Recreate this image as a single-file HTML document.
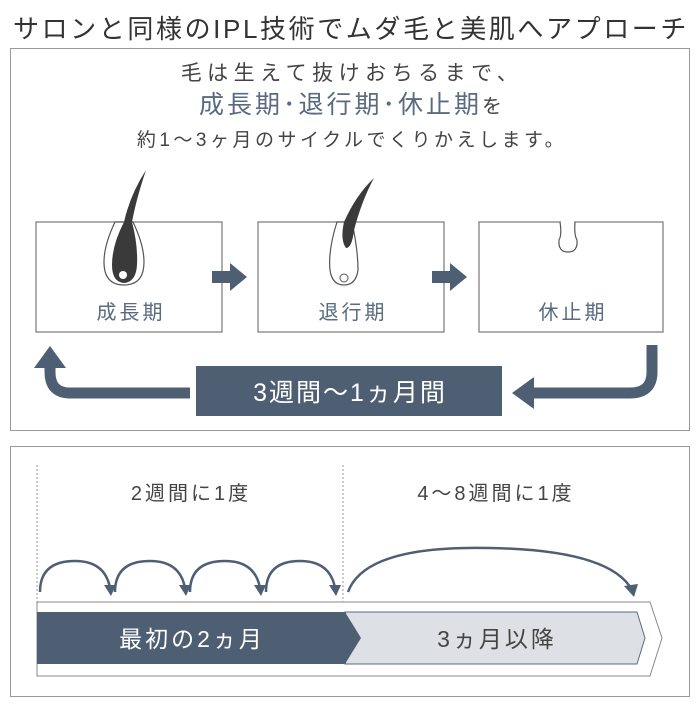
<!DOCTYPE html>
<html><head><meta charset="utf-8"><style>
body{margin:0;width:700px;height:700px;background:#fff;font-family:"Liberation Sans","Noto Sans CJK JP",sans-serif;overflow:hidden}
</style></head><body>
<svg width="700" height="700" xmlns="http://www.w3.org/2000/svg" font-family="Liberation Sans, Noto Sans CJK JP, sans-serif">
<text x="351" y="38" text-anchor="middle" font-size="26" fill="#333" letter-spacing="2.6">サロンと同様のIPL技術でムダ毛と美肌へアプローチ</text>
<rect x="10.5" y="48.5" width="679" height="382" fill="none" stroke="#999"/>
<text x="352" y="80" text-anchor="middle" font-size="21" fill="#444" letter-spacing="5.5">毛は生えて抜けおちるまで、</text>
<text x="352" y="113" text-anchor="middle" font-size="25" fill="#5a6b80" letter-spacing="3">成長期･退行期･休止期<tspan font-size="20" fill="#444">を</tspan></text>
<text x="352" y="146" text-anchor="middle" font-size="19" fill="#444" letter-spacing="3.5">約1〜3ヶ月のサイクルでくりかえします。</text>
<g fill="#fff" stroke="#777" stroke-width="1.2">
<rect x="36" y="222" width="186" height="110"/>
<rect x="258" y="222" width="186" height="110"/>
<rect x="479" y="222" width="184" height="110"/>
</g>
<path d="M115 222 Q104 245 104 262 Q104 285 124 285 Q144 285 144 262 Q144 245 133 222 Z" fill="#fff" stroke="#555" stroke-width="1.2"/>
<path d="M124 283 Q112 282 112 265 Q112 245 124 222 Q130 195 146 170 Q136 200 132 222 Q138 245 137 265 Q136 282 124 283Z" fill="#3a3a3a"/>
<circle cx="123" cy="275" r="4" fill="#fff"/>
<path d="M337 222 Q328 250 330 270 Q332 285 344 285 Q356 285 358 270 Q358 250 352 222 Z" fill="#fff" stroke="#555" stroke-width="1.2"/>
<path d="M346 248 Q340 240 344 222 Q356 195 374 178 Q362 200 354 230 Q352 248 346 248Z" fill="#3a3a3a"/>
<circle cx="344" cy="278" r="4" fill="#fff" stroke="#555"/>
<path d="M560 222 Q562 235 559 240 Q558 252 568 252 Q578 252 577 240 Q574 235 575 222" fill="#fff" stroke="#555" stroke-width="1.2"/>
<rect x="561" y="221" width="13" height="2" fill="#fff"/>
<g font-size="20" fill="#5a6b80" text-anchor="middle" letter-spacing="3">
<text x="131" y="319">成長期</text><text x="353" y="319">退行期</text><text x="573" y="319">休止期</text>
</g>
<g fill="#4f5f73">
<rect x="212" y="271" width="20" height="12"/><polygon points="230,263 247,277 230,291"/>
<rect x="432" y="271" width="20" height="12"/><polygon points="450,263 467,277 450,291"/>
<rect x="196" y="366" width="306" height="50"/>
</g>
<text x="350" y="401" text-anchor="middle" font-size="25" fill="#fff" letter-spacing="2">3週間〜1ヵ月間</text>
<path d="M190 393 H70 Q50 393 50 372 V364" fill="none" stroke="#4f5f73" stroke-width="11"/>
<polygon points="34,368 50,346 66,368" fill="#4f5f73"/>
<path d="M652 345 V372 Q652 393 630 393 H530" fill="none" stroke="#4f5f73" stroke-width="11"/>
<polygon points="534,377 512,393 534,409" fill="#4f5f73"/>
<rect x="10.5" y="446.5" width="679" height="250" fill="none" stroke="#999"/>
<g stroke="#999" stroke-dasharray="2,2"><line x1="37" y1="465" x2="37" y2="602"/><line x1="343" y1="465" x2="343" y2="676"/></g>
<text x="191" y="500" text-anchor="middle" font-size="20" fill="#444" letter-spacing="3">2週間に1度</text>
<text x="496" y="500" text-anchor="middle" font-size="20" fill="#444" letter-spacing="3">4〜8週間に1度</text>
<g fill="none" stroke="#4f5f73" stroke-width="2.5">
<path d="M40 592 Q40 561 75 561 Q105 561 110 588"/>
<path d="M115 592 Q115 561 150 561 Q180 561 185 588"/>
<path d="M190 592 Q190 561 225 561 Q255 561 260 588"/>
<path d="M266 592 Q266 561 300 561 Q330 561 335 588"/>
<path d="M348 592 Q365 545 490 548 Q610 550 632 590"/>
</g>
<g fill="#4f5f73">
<polygon points="104,585 116,585 111,596"/><polygon points="179,585 191,585 186,596"/><polygon points="254,585 266,585 261,596"/><polygon points="329,585 341,585 336,596"/><polygon points="624,586 638,584 634,597"/>
</g>
<polygon points="37,602 650,602 662,638 650,676 37,676" fill="#fff" stroke="#888"/>
<polygon points="345,612 637,612 645,638 637,664 345,664 353,638" fill="#dde0e4" stroke="#5a6b80"/>
<polygon points="37,612 345,612 361,638 345,664 37,664" fill="#4f5f73"/>
<text x="192" y="647" text-anchor="middle" font-size="23" fill="#fff" letter-spacing="3">最初の2ヵ月</text>
<text x="497" y="647" text-anchor="middle" font-size="23" fill="#444" letter-spacing="3">3ヵ月以降</text>
</svg>
</body></html>
